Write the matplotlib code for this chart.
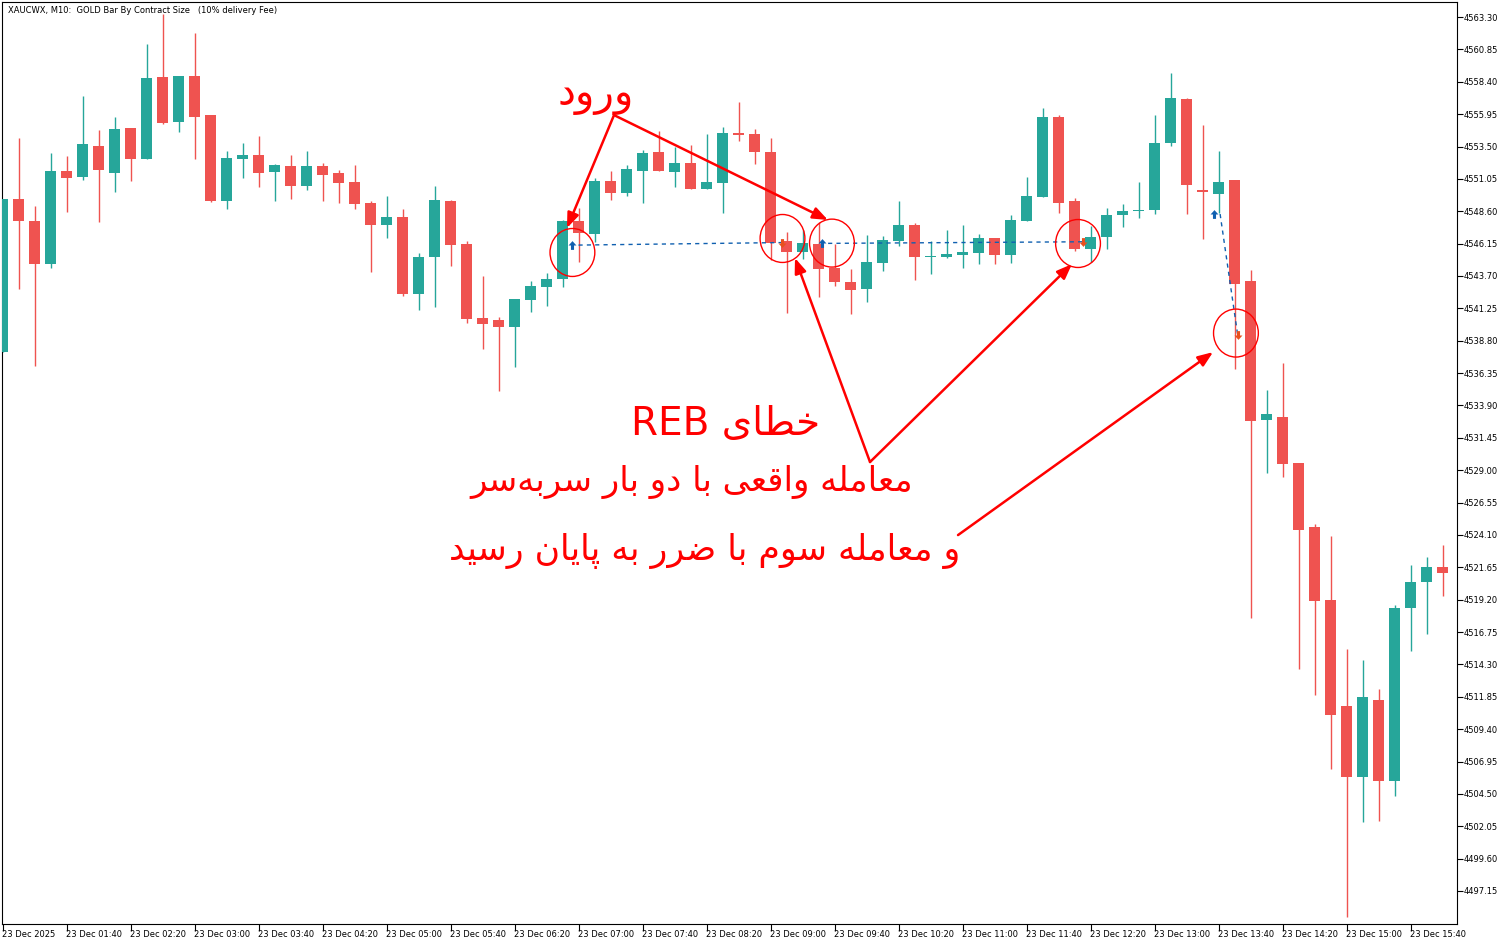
import matplotlib
matplotlib.use("Agg")
import matplotlib.pyplot as plt
from matplotlib.patches import Ellipse
from matplotlib.path import Path

# XAUCWX M10 bars, 23 Dec 2025 01:00 .. 16:00
opens = [4537.94, 4549.52, 4547.88, 4544.60, 4551.64, 4551.21, 4553.54, 4551.49, 4554.90, 4552.55,
         4558.76, 4555.35, 4558.83, 4555.88, 4549.37, 4552.55, 4552.86, 4551.57, 4552.02, 4550.53,
         4552.02, 4551.49, 4550.81, 4549.22, 4547.58, 4548.16, 4542.36, 4545.13, 4549.37, 4546.12,
         4540.52, 4540.37, 4539.86, 4541.88, 4542.86, 4543.49, 4547.86, 4546.90, 4550.89, 4550.00,
         4551.67, 4553.08, 4551.59, 4552.25, 4550.30, 4550.76, 4554.52, 4554.44, 4553.08, 4546.35,
         4545.54, 4546.14, 4544.30, 4543.24, 4542.74, 4544.70, 4546.37, 4547.56, 4545.16, 4545.16,
         4545.31, 4545.46, 4546.57, 4545.31, 4547.88, 4549.70, 4555.73, 4549.37, 4545.76, 4546.65,
         4548.31, 4548.62, 4548.69, 4553.76, 4557.09, 4550.23, 4549.93, 4550.96, 4543.32, 4532.82,
         4533.02, 4529.54, 4524.70, 4519.17, 4511.15, 4505.80, 4511.60, 4505.50, 4518.57, 4520.54,
         4521.67]
highs = [4549.52, 4554.14, 4549.00, 4553.01, 4552.78, 4557.32, 4554.75, 4555.73, 4554.90, 4561.26,
         4563.53, 4558.83, 4562.09, 4555.88, 4553.16, 4553.76, 4554.29, 4552.17, 4552.86, 4553.16,
         4552.25, 4551.72, 4552.10, 4549.37, 4549.75, 4548.77, 4545.44, 4550.51, 4549.45, 4546.35,
         4543.72, 4540.59, 4541.96, 4543.32, 4543.92, 4547.94, 4548.84, 4551.14, 4551.64, 4552.10,
         4553.23, 4554.67, 4553.46, 4553.61, 4554.44, 4554.97, 4556.87, 4554.82, 4554.14, 4547.03,
         4547.18, 4547.78, 4546.14, 4544.23, 4546.80, 4546.72, 4549.37, 4547.71, 4546.37, 4547.18,
         4547.56, 4546.88, 4546.57, 4548.31, 4551.19, 4556.41, 4555.88, 4549.60, 4547.48, 4548.84,
         4549.15, 4550.81, 4555.88, 4559.06, 4557.17, 4555.13, 4553.16, 4550.96, 4544.15, 4535.07,
         4537.11, 4529.54, 4524.93, 4524.02, 4515.46, 4514.63, 4512.44, 4518.79, 4521.82, 4522.43,
         4523.34]
lows = [4537.94, 4542.74, 4536.88, 4544.32, 4548.54, 4550.96, 4547.78, 4550.06, 4550.89, 4552.55,
        4555.20, 4554.60, 4552.55, 4549.30, 4548.77, 4551.11, 4550.46, 4549.40, 4549.55, 4550.23,
        4549.40, 4549.24, 4548.79, 4544.02, 4546.60, 4542.21, 4541.15, 4541.37, 4544.48, 4540.16,
        4538.19, 4534.99, 4536.81, 4540.97, 4541.43, 4542.89, 4544.78, 4546.29, 4549.47, 4549.77,
        4549.24, 4551.67, 4550.46, 4550.30, 4550.30, 4548.49, 4553.94, 4552.20, 4544.91, 4540.92,
        4545.01, 4542.13, 4542.96, 4540.84, 4541.75, 4544.10, 4545.99, 4543.42, 4543.87, 4545.08,
        4544.32, 4544.63, 4544.63, 4544.70, 4547.88, 4549.70, 4548.49, 4545.61, 4544.78, 4545.76,
        4547.43, 4548.11, 4548.41, 4553.56, 4548.41, 4546.52, 4548.47, 4536.68, 4517.83, 4528.81,
        4528.51, 4513.95, 4512.01, 4506.40, 4495.20, 4502.39, 4502.47, 4504.36, 4515.34, 4516.62,
        4519.50]
closes = [4549.52, 4547.88, 4544.60, 4551.64, 4551.14, 4553.69, 4551.72, 4554.82, 4552.55, 4558.68,
          4555.28, 4558.83, 4555.73, 4549.37, 4552.63, 4552.86, 4551.52, 4552.10, 4550.53, 4552.02,
          4551.36, 4550.76, 4549.17, 4547.58, 4548.16, 4542.36, 4545.13, 4549.45, 4546.07, 4540.47,
          4540.09, 4539.86, 4541.96, 4542.94, 4543.47, 4547.86, 4546.97, 4550.89, 4550.00, 4551.80,
          4553.01, 4551.67, 4552.25, 4550.30, 4550.81, 4554.52, 4554.39, 4553.11, 4546.22, 4545.54,
          4546.19, 4544.25, 4543.27, 4542.66, 4544.76, 4546.42, 4547.56, 4545.16, 4545.23, 4545.38,
          4545.51, 4546.57, 4545.31, 4547.94, 4549.75, 4555.73, 4549.24, 4545.76, 4546.65, 4548.31,
          4548.62, 4548.69, 4553.76, 4557.17, 4550.61, 4550.08, 4550.81, 4543.11, 4532.74, 4533.25,
          4529.49, 4524.49, 4519.12, 4510.49, 4505.80, 4511.83, 4505.50, 4518.57, 4520.54, 4521.67,
          4521.24]

time_labels = ["23 Dec 2025", "23 Dec 01:40", "23 Dec 02:20", "23 Dec 03:00", "23 Dec 03:40",
               "23 Dec 04:20", "23 Dec 05:00", "23 Dec 05:40", "23 Dec 06:20", "23 Dec 07:00",
               "23 Dec 07:40", "23 Dec 08:20", "23 Dec 09:00", "23 Dec 09:40", "23 Dec 10:20",
               "23 Dec 11:00", "23 Dec 11:40", "23 Dec 12:20", "23 Dec 13:00", "23 Dec 13:40",
               "23 Dec 14:20", "23 Dec 15:00", "23 Dec 15:40"]
price_ticks = [4563.30, 4560.85, 4558.40, 4555.95, 4553.50, 4551.05, 4548.60, 4546.15, 4543.70,
               4541.25, 4538.80, 4536.35, 4533.90, 4531.45, 4529.00, 4526.55, 4524.10, 4521.65,
               4519.20, 4516.75, 4514.30, 4511.85, 4509.40, 4506.95, 4504.50, 4502.05, 4499.60,
               4497.15]

# trades: (entry bar, entry price, exit bar, exit price)
trade_in_bar = [35.6, 51.2, 75.7]
trade_in_price = [4546.04, 4546.17, 4548.39]
trade_out_bar = [48.7, 67.5, 77.2]
trade_out_price = [4546.23, 4546.29, 4539.23]

# circles drawn by hand on the chart (bar, price)
circle_bar = [35.62, 48.75, 51.84, 67.22, 77.09]
circle_price = [4545.48, 4546.54, 4546.19, 4546.16, 4539.38]

# arrows: (from bar, from price, to bar, to price)
arrows = [(38.22, 4555.88, 35.28, 4547.33),
          (38.22, 4555.88, 51.59, 4547.94),
          (54.22, 4529.62, 49.53, 4545.06),
          (54.22, 4529.62, 66.84, 4544.60),
          (59.72, 4524.09, 75.66, 4537.94)]

TEAL = "#26a69a"
RED = "#ef5350"
MARK = "#ff0000"

# --- minimal Persian shaping (matplotlib does no complex text layout) ---
FORMS = {
    "ا": ("\uFE8D", "\uFE8E", None, None),
    "د": ("\uFEA9", "\uFEAA", None, None),
    "ر": ("\uFEAD", "\uFEAE", None, None),
    "و": ("\uFEED", "\uFEEE", None, None),
    "ب": ("\uFE8F", "\uFE90", "\uFE91", "\uFE92"),
    "پ": ("\uFB56", "\uFB57", "\uFB58", "\uFB59"),
    "خ": ("\uFEA5", "\uFEA6", "\uFEA7", "\uFEA8"),
    "س": ("\uFEB1", "\uFEB2", "\uFEB3", "\uFEB4"),
    "ض": ("\uFEBD", "\uFEBE", "\uFEBF", "\uFEC0"),
    "ط": ("\uFEC1", "\uFEC2", "\uFEC3", "\uFEC4"),
    "ع": ("\uFEC9", "\uFECA", "\uFECB", "\uFECC"),
    "ق": ("\uFED5", "\uFED6", "\uFED7", "\uFED8"),
    "ل": ("\uFEDD", "\uFEDE", "\uFEDF", "\uFEE0"),
    "م": ("\uFEE1", "\uFEE2", "\uFEE3", "\uFEE4"),
    "ن": ("\uFEE5", "\uFEE6", "\uFEE7", "\uFEE8"),
    "ه": ("\uFEE9", "\uFEEA", "\uFEEB", "\uFEEC"),
    "ی": ("\uFBFC", "\uFBFD", "\uFBFE", "\uFBFF"),
}


def dual(c):
    return c in FORMS and FORMS[c][2] is not None


def shape_word(w):
    out = []
    for i, c in enumerate(w):
        if c not in FORMS:
            if c != "\u200c":
                out.append(c)
            continue
        prev = w[i - 1] if i > 0 else ""
        nxt = w[i + 1] if i + 1 < len(w) else ""
        jp = dual(prev)
        jn = dual(c) and nxt in FORMS
        f = FORMS[c]
        if jp and jn:
            out.append(f[3])
        elif jp:
            out.append(f[1])
        elif jn:
            out.append(f[2])
        else:
            out.append(f[0])
    return "".join(out)[::-1]


def rtl(text):
    words = text.split(" ")
    return " ".join(shape_word(w) if any(ch in FORMS for ch in w) else w for w in reversed(words))


W, H = 1509, 944
fig = plt.figure(figsize=(W / 100, H / 100), dpi=100)
L, R, T, B = 2, 1457, 2, 924
ax = fig.add_axes([L / W, (H - B) / H, (R - L) / W, (B - T) / H])

n = len(opens)
xs = list(range(n))
cols = [TEAL if c >= o else RED for o, c in zip(opens, closes)]
ax.vlines(xs, lows, highs, colors=cols, linewidth=1.0, zorder=2)
bottoms = [min(o, c) for o, c in zip(opens, closes)]
heights = [max(abs(c - o), 0.08) for o, c in zip(opens, closes)]
ax.bar(xs, heights, bottom=bottoms, width=0.69, color=cols, linewidth=0, zorder=3)

# trade lines and arrows
for xi, pi, xo, po in zip(trade_in_bar, trade_in_price, trade_out_bar, trade_out_price):
    ax.plot([xi + 0.4, xo], [pi, po], color="#1060b0", linestyle=(0, (3, 3)), linewidth=1.0, zorder=4)

up = Path([(0, 1), (-0.9, 0), (-0.35, 0), (-0.35, -1), (0.35, -1), (0.35, 0), (0.9, 0), (0, 1)])
down = Path([(0, -1), (-0.9, 0), (-0.35, 0), (-0.35, 1), (0.35, 1), (0.35, 0), (0.9, 0), (0, -1)])
ax.scatter(trade_in_bar, trade_in_price, marker=up, s=40, color="#1060b0", zorder=5, linewidths=0)
ax.scatter(trade_out_bar, trade_out_price, marker=down, s=40, color="#e8501e", zorder=5, linewidths=0)

for cb, cp in zip(circle_bar, circle_price):
    ax.add_patch(Ellipse((cb, cp), 2.8, 3.63, fill=False, edgecolor=MARK, linewidth=1.0, zorder=6))

for x0, y0, x1, y1 in arrows:
    ax.annotate("", xy=(x1, y1), xytext=(x0, y0),
                arrowprops=dict(arrowstyle="-|>,head_length=0.9,head_width=0.35",
                                color=MARK, linewidth=1.8, shrinkA=0, shrinkB=0), zorder=7)

fam = ["DejaVu Sans"]
ax.text(37.1, 4557.4, rtl("ورود"), color=MARK, fontsize=29, ha="center", va="center", family=fam)
ax.text(45.2, 4532.5, rtl("خطای REB"), color=MARK, fontsize=28, ha="center", va="center", family=fam)
ax.text(43.1, 4528.1, rtl("معامله واقعی با دو بار سربه\u200cسر"), color=MARK, fontsize=24.5,
        ha="center", va="center", family=fam)
ax.text(43.9, 4522.9, rtl("و معامله سوم با ضرر به پایان رسید"), color=MARK, fontsize=25,
        ha="center", va="center", family=fam)

ax.text(0.004, 0.991, "XAUCWX, M10:  GOLD Bar By Contract Size   (10% delivery Fee)",
        transform=ax.transAxes, fontsize=6, ha="left", va="center")

ax.set_xlim((L - 2.5) / 16, (R - 2.5) / 16)
ax.set_ylim(4494.65, 4564.44)

ax.set_xticks(range(0, n, 4)[:len(time_labels)])
ax.set_xticklabels(time_labels, fontsize=6, ha="left")
ax.yaxis.tick_right()
ax.set_yticks(price_ticks)
ax.set_yticklabels([f"{p:.2f}" for p in price_ticks], fontsize=6)
ax.tick_params(axis="x", length=5, width=0.8, pad=-1)
ax.tick_params(axis="y", length=4, width=0.8, pad=1)
for sp in ax.spines.values():
    sp.set_linewidth(0.8)

fig.savefig("out.png", dpi=100, facecolor="white")
